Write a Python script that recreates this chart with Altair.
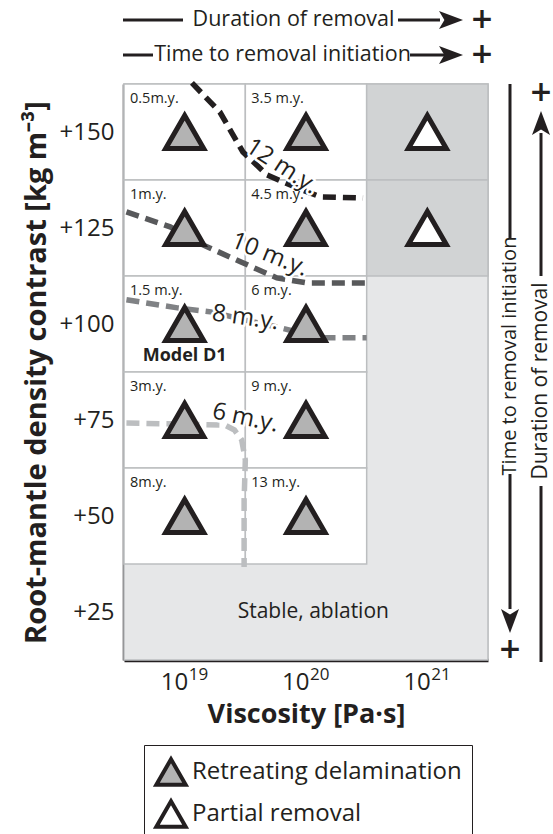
import altair as alt
import pandas as pd

FONT = "Open Sans"
INK = "#231f20"
GRID = "#bcbec0"

# ---------------- data ----------------
visc_exp = [19, 20, 21]                       # log10 viscosity [Pa s]
exp_labels = ["19", "20", "21"]
density_ticks = [25, 50, 75, 100, 125, 150]   # kg m-3

run_visc = [19, 19, 19, 19, 19, 20, 20, 20, 20, 20, 21, 21]
run_dens = [150, 125, 100, 75, 50, 150, 125, 100, 75, 50, 150, 125]
run_type = ["Retreating delamination"] * 10 + ["Partial removal"] * 2
run_time = ["0.5m.y.", "1m.y.", "1.5 m.y.", "3m.y.", "8m.y.",
            "3.5 m.y.", "4.5 m.y.", "6 m.y.", "9 m.y.", "13 m.y.", "", ""]
run_zone = ["removal"] * 10 + ["partial"] * 2

contour_names = ["12 m.y.", "10 m.y.", "8 m.y.", "6 m.y."]
contour_colors = ["#231f20", "#58595b", "#808285", "#bcbec0"]
c12_x = [19.06, 19.29, 19.48, 19.68, 19.93, 20.12, 20.47]
c12_y = [162.8, 155.2, 144.8, 138.8, 135.4, 133.1, 132.8]
c10_x = [18.52, 18.88, 19.15, 19.46, 19.76, 20.01, 20.50]
c10_y = [129.2, 125.3, 120.6, 116.2, 112.0, 110.7, 110.7]
c8_x = [18.52, 18.94, 19.23, 19.50, 19.79, 20.12, 20.50]
c8_y = [106.3, 104.2, 103.1, 101.0, 99.0, 96.4, 96.4]
c6_x = [18.52, 19.33, 19.41, 19.47, 19.50, 19.49, 19.49]
c6_y = [74.2, 73.7, 72.4, 69.8, 64.6, 54.2, 36.7]

label_x = [19.80, 19.70, 19.50, 19.50]
label_y = [141.0, 118.0, 101.6, 75.5]
label_angle = [33, 22, 8, 12]

# ---------------- tables ----------------
runs = pd.DataFrame({"visc": run_visc, "dens": run_dens, "type": run_type,
                     "time": run_time, "zone": run_zone})
runs["x0"] = runs.visc - 0.5
runs["x1"] = runs.visc + 0.5
runs["y0"] = runs.dens - 12.5
runs["y1"] = runs.dens + 12.5

bg = pd.DataFrame({"x0": [visc_exp[0] - 0.5], "x1": [visc_exp[-1] + 0.5],
                   "y0": [density_ticks[0] - 12.5], "y1": [density_ticks[-1] + 12.5]})

rows = []
for name, xs_, ys_ in zip(contour_names, [c12_x, c10_x, c8_x, c6_x], [c12_y, c10_y, c8_y, c6_y]):
    for i, (a, b) in enumerate(zip(xs_, ys_)):
        rows.append({"contour": name, "i": i, "x": a, "y": b})
contours = pd.DataFrame(rows)
clabels = pd.DataFrame({"label": contour_names, "x": label_x, "y": label_y, "angle": label_angle})

ticks_x = pd.DataFrame({"visc": visc_exp, "exp": exp_labels})

W, H = 364, 576

xs = alt.Scale(domain=[18.5, 21.5], nice=False, zero=False)
ys = alt.Scale(domain=[12.5, 162.5], nice=False, zero=False)

xaxis = alt.Axis(values=visc_exp, labelExpr="'10'", labelFontSize=24, labelAlign="right",
                 labelOffset=3, labelPadding=10, ticks=False, grid=False, domainColor=INK,
                 domainWidth=3.5, labelColor=INK, title="Viscosity [Pa·s]", titleFontSize=27,
                 titleFontWeight="bold", titleColor=INK, titlePadding=7)
yaxis = alt.Axis(values=density_ticks, labelExpr="'+' + datum.value", labelFontSize=24,
                 labelPadding=10, ticks=False, grid=False, domainColor=INK, domainWidth=3.5,
                 labelColor=INK, title="Root-mantle density contrast [kg m⁻³]",
                 titleFontSize=29, titleFontWeight="bold", titleColor=INK, titlePadding=8)

TRI = "M-1,0.87L0,-0.87L1,0.87Z"
ARROW = "M-1,-0.75L1,0L-1,0.75L-0.55,0Z"

background = alt.Chart(bg).mark_rect(fill="#e6e7e8", stroke=GRID, strokeWidth=1.5).encode(
    x=alt.X("x0:Q", scale=xs, axis=xaxis), x2="x1",
    y=alt.Y("y0:Q", scale=ys, axis=yaxis), y2="y1")

white_cells = alt.Chart(runs).transform_filter("datum.zone == 'removal'").mark_rect(
    fill="#ffffff", stroke=GRID, strokeWidth=1.5).encode(
    x="x0:Q", x2="x1", y="y0:Q", y2="y1")
grey_cells = alt.Chart(runs).transform_filter("datum.zone == 'partial'").mark_rect(
    fill="#d1d3d4", stroke=GRID, strokeWidth=1.5).encode(
    x="x0:Q", x2="x1", y="y0:Q", y2="y1")

lines = alt.Chart(contours).mark_line(strokeWidth=5.5, strokeDash=[13, 7], strokeCap="butt").encode(
    x="x:Q", y="y:Q",
    color=alt.Color("contour:N", scale=alt.Scale(domain=contour_names, range=contour_colors), legend=None),
    order="i:Q", detail="contour:N")

halo = alt.Chart(clabels).mark_text(font=FONT, fontSize=24, stroke="white", strokeWidth=5,
                                    strokeJoin="round", fill="white").encode(
    x="x:Q", y="y:Q", text="label:N", angle=alt.Angle("angle:Q", scale=None))
ctext = alt.Chart(clabels).mark_text(font=FONT, fontSize=24, fill=INK).encode(
    x="x:Q", y="y:Q", text="label:N", angle=alt.Angle("angle:Q", scale=None))

times = alt.Chart(runs).transform_filter("datum.time != ''").mark_text(
    font=FONT, fontSize=14.5, align="left", baseline="alphabetic", dx=6, dy=19, fill=INK).encode(
    x="x0:Q", y="y1:Q", text="time:N")

tris = alt.Chart(runs).mark_point(shape=TRI, size=1444, filled=True, stroke=INK, strokeWidth=5,
                                  opacity=1, strokeJoin="miter").encode(
    x="visc:Q", y="dens:Q",
    fill=alt.Fill("type:N", scale=alt.Scale(domain=["Retreating delamination", "Partial removal"],
                                            range=["#b3b3b3", "#ffffff"]),
                  legend=alt.Legend(title=None, orient="none", legendX=20, legendY=661,
                                    symbolType=TRI, symbolSize=860, symbolStrokeColor=INK,
                                    symbolStrokeWidth=4, symbolOpacity=1,
                                    labelFont=FONT, labelFontSize=24, labelColor=INK,
                                    labelLimit=400, labelOffset=4, rowPadding=0, padding=10,
                                    strokeColor=INK)))

model = alt.Chart(pd.DataFrame({"x": [19], "y": [100], "t": ["Model D1"]})).mark_text(
    font=FONT, fontSize=18, fontWeight="bold", dy=32, fill=INK).encode(x="x:Q", y="y:Q", text="t:N")

stable = alt.Chart(pd.DataFrame({"x": [20.06], "y": [25], "t": ["Stable, ablation"]})).mark_text(
    font=FONT, fontSize=21, fill=INK).encode(x="x:Q", y="y:Q", text="t:N")

exps = alt.Chart(ticks_x).mark_text(font=FONT, fontSize=17, align="left", baseline="alphabetic",
                                    dx=4, fill=INK).encode(
    x="visc:Q", y=alt.value(596), text="exp:N")

# ---------- annotation arrows (pixel positions relative to plot area) ----------
ann_rules = pd.DataFrame({
    "x": [-1, 274, -1, 286, 386, 386, 417, 417],
    "x2": [59, 316, 29, 321, 386, 386, 417, 417],
    "y": [-64, -64, -29, -29, 0, 390, 49, 402],
    "y2": [-64, -64, -29, -29, 154, 525, 192, 578],
})
rules = alt.Chart(ann_rules).mark_rule(strokeWidth=3, color=INK).encode(
    x=alt.X("x:Q", scale=None), x2="x2:Q", y=alt.Y("y:Q", scale=None), y2="y2:Q")

ann_heads = pd.DataFrame({"x": [327, 327, 386, 417], "y": [-64, -29, 537, 39], "a": [0, 0, 90, 270]})
heads = alt.Chart(ann_heads).mark_point(shape=ARROW, size=576, filled=True, fill=INK, opacity=1,
                                        strokeWidth=0).encode(
    x=alt.X("x:Q", scale=None), y=alt.Y("y:Q", scale=None), angle=alt.Angle("a:Q", scale=None))

ann_plus = pd.DataFrame({"x": [358, 358, 386, 417], "y": [-64, -29, 566, 9]})
plus = alt.Chart(ann_plus).mark_text(text="+", font="DejaVu Sans", fontSize=28, fontWeight="bold",
                                     fill=INK, baseline="middle").encode(
    x=alt.X("x:Q", scale=None), y=alt.Y("y:Q", scale=None))

ann_text = pd.DataFrame({
    "t": ["Duration of removal", "Time to removal initiation", "Time to removal initiation", "Duration of removal"],
    "x": [169.5, 158.5, 386, 417], "y": [-64, -29, 272, 297], "a": [0, 0, 270, 270],
    "s": [21.5, 21.5, 20, 21]})
atext = alt.Chart(ann_text).mark_text(font=FONT, fill=INK, baseline="middle").encode(
    x=alt.X("x:Q", scale=None), y=alt.Y("y:Q", scale=None), text="t:N",
    angle=alt.Angle("a:Q", scale=None), size=alt.Size("s:Q", scale=None))

chart = alt.layer(
    background, white_cells, grey_cells, lines, halo, ctext, times, tris, model, stable, exps,
    rules, heads, plus, atext
).properties(
    width=W, height=H,
    padding={"left": 124, "top": 84, "right": 65, "bottom": 174},
    autosize=alt.AutoSizeParams(type="none"),
).configure_view(stroke=None).configure(font=FONT).configure_axis(labelFont=FONT, titleFont=FONT)

chart.save("out.html", embed_options={"renderer": "svg", "actions": False})
